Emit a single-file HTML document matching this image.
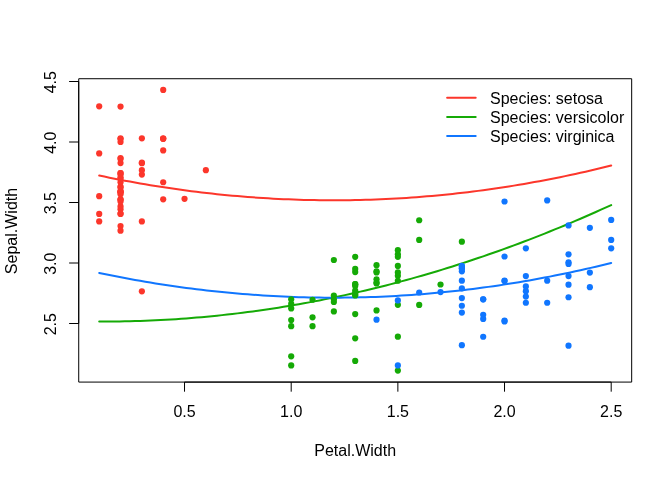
<!DOCTYPE html>
<html><head><meta charset="utf-8"><style>
html,body{margin:0;padding:0;background:#fff;}
svg{display:block;will-change:transform;}
text{font-family:"Liberation Sans",Arial,Helvetica,sans-serif;font-size:16px;fill:#000;}
</style></head><body>
<svg width="672" height="480" viewBox="0 0 672 480">
<rect x="0" y="0" width="672" height="480" fill="#fff"/>
<rect x="78.72" y="78.72" width="552.96" height="303.36" fill="none" stroke="#000" stroke-width="1" stroke-linejoin="round"/>
<line x1="184.53" y1="382.08" x2="611.19" y2="382.08" stroke="#000" stroke-width="1"/>
<line x1="78.72" y1="323.50" x2="78.72" y2="81.50" stroke="#000" stroke-width="1"/>
<line x1="184.53" y1="382.08" x2="184.53" y2="391.68" stroke="#000" stroke-width="1"/>
<text x="184.53" y="416.9" text-anchor="middle">0.5</text>
<line x1="291.20" y1="382.08" x2="291.20" y2="391.68" stroke="#000" stroke-width="1"/>
<text x="291.20" y="416.9" text-anchor="middle">1.0</text>
<line x1="397.86" y1="382.08" x2="397.86" y2="391.68" stroke="#000" stroke-width="1"/>
<text x="397.86" y="416.9" text-anchor="middle">1.5</text>
<line x1="504.53" y1="382.08" x2="504.53" y2="391.68" stroke="#000" stroke-width="1"/>
<text x="504.53" y="416.9" text-anchor="middle">2.0</text>
<line x1="611.19" y1="382.08" x2="611.19" y2="391.68" stroke="#000" stroke-width="1"/>
<text x="611.19" y="416.9" text-anchor="middle">2.5</text>
<line x1="69.12" y1="323.50" x2="78.72" y2="323.50" stroke="#000" stroke-width="1"/>
<text transform="translate(55.9,324.20) rotate(-90)" text-anchor="middle">2.5</text>
<line x1="69.12" y1="263.00" x2="78.72" y2="263.00" stroke="#000" stroke-width="1"/>
<text transform="translate(55.9,263.70) rotate(-90)" text-anchor="middle">3.0</text>
<line x1="69.12" y1="202.50" x2="78.72" y2="202.50" stroke="#000" stroke-width="1"/>
<text transform="translate(55.9,203.20) rotate(-90)" text-anchor="middle">3.5</text>
<line x1="69.12" y1="142.00" x2="78.72" y2="142.00" stroke="#000" stroke-width="1"/>
<text transform="translate(55.9,142.70) rotate(-90)" text-anchor="middle">4.0</text>
<line x1="69.12" y1="81.50" x2="78.72" y2="81.50" stroke="#000" stroke-width="1"/>
<text transform="translate(55.9,82.20) rotate(-90)" text-anchor="middle">4.5</text>
<text x="355.2" y="455.9" text-anchor="middle">Petal.Width</text>
<text transform="translate(17.1,231.0) rotate(-90)" text-anchor="middle">Sepal.Width</text>
<path d="M99.20,175.53 L104.32,176.60 L109.44,177.65 L114.56,178.67 L119.68,179.67 L124.80,180.65 L129.92,181.60 L135.04,182.52 L140.16,183.43 L145.28,184.31 L150.40,185.17 L155.52,186.00 L160.64,186.81 L165.76,187.60 L170.88,188.36 L176.00,189.10 L181.12,189.81 L186.24,190.50 L191.36,191.17 L196.48,191.82 L201.60,192.44 L206.72,193.03 L211.84,193.61 L216.96,194.16 L222.08,194.68 L227.20,195.19 L232.32,195.67 L237.44,196.12 L242.56,196.55 L247.68,196.96 L252.80,197.34 L257.92,197.71 L263.04,198.04 L268.16,198.36 L273.28,198.65 L278.40,198.91 L283.52,199.16 L288.64,199.37 L293.76,199.57 L298.88,199.74 L304.00,199.89 L309.12,200.01 L314.24,200.12 L319.36,200.19 L324.48,200.25 L329.60,200.28 L334.72,200.28 L339.84,200.27 L344.96,200.22 L350.08,200.16 L355.20,200.07 L360.32,199.96 L365.44,199.83 L370.56,199.67 L375.68,199.48 L380.80,199.28 L385.92,199.05 L391.04,198.79 L396.16,198.52 L401.27,198.22 L406.39,197.89 L411.51,197.54 L416.63,197.17 L421.75,196.78 L426.87,196.36 L431.99,195.92 L437.11,195.45 L442.23,194.96 L447.35,194.45 L452.47,193.91 L457.59,193.35 L462.71,192.76 L467.83,192.16 L472.95,191.53 L478.07,190.87 L483.19,190.19 L488.31,189.49 L493.43,188.76 L498.55,188.01 L503.67,187.24 L508.79,186.44 L513.91,185.62 L519.03,184.78 L524.15,183.91 L529.27,183.02 L534.39,182.10 L539.51,181.17 L544.63,180.20 L549.75,179.22 L554.87,178.21 L559.99,177.17 L565.11,176.12 L570.23,175.04 L575.35,173.93 L580.47,172.81 L585.59,171.65 L590.71,170.48 L595.83,169.28 L600.95,168.06 L606.07,166.81 L611.19,165.54" fill="none" stroke="#FC362B" stroke-width="2" stroke-linecap="round" stroke-linejoin="round"/>
<path d="M99.20,321.54 L104.32,321.54 L109.44,321.52 L114.56,321.48 L119.68,321.41 L124.80,321.32 L129.92,321.21 L135.04,321.07 L140.16,320.91 L145.28,320.73 L150.40,320.52 L155.52,320.29 L160.64,320.03 L165.76,319.75 L170.88,319.45 L176.00,319.13 L181.12,318.78 L186.24,318.40 L191.36,318.01 L196.48,317.59 L201.60,317.14 L206.72,316.67 L211.84,316.18 L216.96,315.67 L222.08,315.13 L227.20,314.57 L232.32,313.98 L237.44,313.37 L242.56,312.74 L247.68,312.08 L252.80,311.40 L257.92,310.70 L263.04,309.97 L268.16,309.22 L273.28,308.44 L278.40,307.64 L283.52,306.82 L288.64,305.98 L293.76,305.11 L298.88,304.21 L304.00,303.30 L309.12,302.36 L314.24,301.39 L319.36,300.40 L324.48,299.39 L329.60,298.36 L334.72,297.30 L339.84,296.22 L344.96,295.11 L350.08,293.98 L355.20,292.83 L360.32,291.65 L365.44,290.45 L370.56,289.23 L375.68,287.98 L380.80,286.71 L385.92,285.42 L391.04,284.10 L396.16,282.76 L401.27,281.39 L406.39,280.00 L411.51,278.59 L416.63,277.15 L421.75,275.69 L426.87,274.21 L431.99,272.70 L437.11,271.17 L442.23,269.61 L447.35,268.04 L452.47,266.43 L457.59,264.81 L462.71,263.16 L467.83,261.49 L472.95,259.79 L478.07,258.07 L483.19,256.33 L488.31,254.56 L493.43,252.77 L498.55,250.95 L503.67,249.12 L508.79,247.25 L513.91,245.37 L519.03,243.46 L524.15,241.53 L529.27,239.57 L534.39,237.59 L539.51,235.59 L544.63,233.56 L549.75,231.51 L554.87,229.43 L559.99,227.34 L565.11,225.21 L570.23,223.07 L575.35,220.90 L580.47,218.71 L585.59,216.49 L590.71,214.25 L595.83,211.99 L600.95,209.70 L606.07,207.39 L611.19,205.06" fill="none" stroke="#15AA06" stroke-width="2" stroke-linecap="round" stroke-linejoin="round"/>
<path d="M99.20,272.93 L104.32,274.00 L109.44,275.04 L114.56,276.06 L119.68,277.06 L124.80,278.04 L129.92,278.99 L135.04,279.92 L140.16,280.82 L145.28,281.70 L150.40,282.56 L155.52,283.39 L160.64,284.20 L165.76,284.99 L170.88,285.75 L176.00,286.49 L181.12,287.21 L186.24,287.90 L191.36,288.56 L196.48,289.21 L201.60,289.83 L206.72,290.43 L211.84,291.00 L216.96,291.55 L222.08,292.08 L227.20,292.58 L232.32,293.06 L237.44,293.51 L242.56,293.95 L247.68,294.35 L252.80,294.74 L257.92,295.10 L263.04,295.44 L268.16,295.75 L273.28,296.04 L278.40,296.31 L283.52,296.55 L288.64,296.77 L293.76,296.96 L298.88,297.13 L304.00,297.28 L309.12,297.41 L314.24,297.51 L319.36,297.59 L324.48,297.64 L329.60,297.67 L334.72,297.68 L339.84,297.66 L344.96,297.62 L350.08,297.55 L355.20,297.47 L360.32,297.35 L365.44,297.22 L370.56,297.06 L375.68,296.88 L380.80,296.67 L385.92,296.44 L391.04,296.19 L396.16,295.91 L401.27,295.61 L406.39,295.28 L411.51,294.94 L416.63,294.57 L421.75,294.17 L426.87,293.75 L431.99,293.31 L437.11,292.84 L442.23,292.35 L447.35,291.84 L452.47,291.30 L457.59,290.74 L462.71,290.16 L467.83,289.55 L472.95,288.92 L478.07,288.26 L483.19,287.58 L488.31,286.88 L493.43,286.16 L498.55,285.41 L503.67,284.63 L508.79,283.84 L513.91,283.02 L519.03,282.17 L524.15,281.30 L529.27,280.41 L534.39,279.50 L539.51,278.56 L544.63,277.60 L549.75,276.61 L554.87,275.60 L559.99,274.57 L565.11,273.51 L570.23,272.43 L575.35,271.33 L580.47,270.20 L585.59,269.05 L590.71,267.87 L595.83,266.67 L600.95,265.45 L606.07,264.21 L611.19,262.94" fill="none" stroke="#1076FF" stroke-width="2" stroke-linecap="round" stroke-linejoin="round"/>
<line x1="447.1" y1="97.85" x2="475.7" y2="97.85" stroke="#FC362B" stroke-width="2" stroke-linecap="round"/>
<text x="490.0" y="103.75">Species: setosa</text>
<line x1="447.1" y1="116.95" x2="475.7" y2="116.95" stroke="#15AA06" stroke-width="2" stroke-linecap="round"/>
<text x="490.0" y="122.85">Species: versicolor</text>
<line x1="447.1" y1="136.05" x2="475.7" y2="136.05" stroke="#1076FF" stroke-width="2" stroke-linecap="round"/>
<text x="490.0" y="141.95">Species: virginica</text>
<circle cx="120.53" cy="174.58" r="3.1" fill="#FC362B"/>
<circle cx="120.53" cy="226.06" r="3.1" fill="#FC362B"/>
<circle cx="120.53" cy="192.37" r="3.1" fill="#FC362B"/>
<circle cx="120.53" cy="199.56" r="3.1" fill="#FC362B"/>
<circle cx="120.53" cy="158.03" r="3.1" fill="#FC362B"/>
<circle cx="163.20" cy="138.84" r="3.1" fill="#FC362B"/>
<circle cx="141.87" cy="163.26" r="3.1" fill="#FC362B"/>
<circle cx="120.53" cy="182.23" r="3.1" fill="#FC362B"/>
<circle cx="120.53" cy="213.57" r="3.1" fill="#FC362B"/>
<circle cx="99.20" cy="213.96" r="3.1" fill="#FC362B"/>
<circle cx="120.53" cy="163.04" r="3.1" fill="#FC362B"/>
<circle cx="120.53" cy="172.98" r="3.1" fill="#FC362B"/>
<circle cx="99.20" cy="221.38" r="3.1" fill="#FC362B"/>
<circle cx="99.20" cy="196.21" r="3.1" fill="#FC362B"/>
<circle cx="120.53" cy="142.00" r="3.1" fill="#FC362B"/>
<circle cx="163.20" cy="89.96" r="3.1" fill="#FC362B"/>
<circle cx="163.20" cy="138.84" r="3.1" fill="#FC362B"/>
<circle cx="141.87" cy="174.58" r="3.1" fill="#FC362B"/>
<circle cx="141.87" cy="162.56" r="3.1" fill="#FC362B"/>
<circle cx="141.87" cy="138.28" r="3.1" fill="#FC362B"/>
<circle cx="120.53" cy="199.34" r="3.1" fill="#FC362B"/>
<circle cx="163.20" cy="150.38" r="3.1" fill="#FC362B"/>
<circle cx="120.53" cy="139.06" r="3.1" fill="#FC362B"/>
<circle cx="184.53" cy="198.78" r="3.1" fill="#FC362B"/>
<circle cx="120.53" cy="172.98" r="3.1" fill="#FC362B"/>
<circle cx="120.53" cy="230.63" r="3.1" fill="#FC362B"/>
<circle cx="163.20" cy="182.23" r="3.1" fill="#FC362B"/>
<circle cx="120.53" cy="178.92" r="3.1" fill="#FC362B"/>
<circle cx="120.53" cy="191.02" r="3.1" fill="#FC362B"/>
<circle cx="120.53" cy="192.37" r="3.1" fill="#FC362B"/>
<circle cx="120.53" cy="209.28" r="3.1" fill="#FC362B"/>
<circle cx="163.20" cy="199.34" r="3.1" fill="#FC362B"/>
<circle cx="99.20" cy="106.32" r="3.1" fill="#FC362B"/>
<circle cx="120.53" cy="106.53" r="3.1" fill="#FC362B"/>
<circle cx="120.53" cy="213.96" r="3.1" fill="#FC362B"/>
<circle cx="120.53" cy="206.43" r="3.1" fill="#FC362B"/>
<circle cx="120.53" cy="191.23" r="3.1" fill="#FC362B"/>
<circle cx="99.20" cy="153.46" r="3.1" fill="#FC362B"/>
<circle cx="120.53" cy="201.47" r="3.1" fill="#FC362B"/>
<circle cx="120.53" cy="186.68" r="3.1" fill="#FC362B"/>
<circle cx="141.87" cy="170.13" r="3.1" fill="#FC362B"/>
<circle cx="141.87" cy="291.32" r="3.1" fill="#FC362B"/>
<circle cx="120.53" cy="177.27" r="3.1" fill="#FC362B"/>
<circle cx="205.86" cy="170.13" r="3.1" fill="#FC362B"/>
<circle cx="163.20" cy="138.28" r="3.1" fill="#FC362B"/>
<circle cx="141.87" cy="221.38" r="3.1" fill="#FC362B"/>
<circle cx="120.53" cy="138.28" r="3.1" fill="#FC362B"/>
<circle cx="120.53" cy="187.46" r="3.1" fill="#FC362B"/>
<circle cx="120.53" cy="158.94" r="3.1" fill="#FC362B"/>
<circle cx="120.53" cy="194.33" r="3.1" fill="#FC362B"/>
<circle cx="376.53" cy="265.17" r="3.1" fill="#15AA06"/>
<circle cx="397.86" cy="254.25" r="3.1" fill="#15AA06"/>
<circle cx="397.86" cy="275.76" r="3.1" fill="#15AA06"/>
<circle cx="355.20" cy="338.28" r="3.1" fill="#15AA06"/>
<circle cx="397.86" cy="304.78" r="3.1" fill="#15AA06"/>
<circle cx="355.20" cy="284.18" r="3.1" fill="#15AA06"/>
<circle cx="419.19" cy="239.89" r="3.1" fill="#15AA06"/>
<circle cx="291.20" cy="303.93" r="3.1" fill="#15AA06"/>
<circle cx="355.20" cy="294.69" r="3.1" fill="#15AA06"/>
<circle cx="376.53" cy="279.32" r="3.1" fill="#15AA06"/>
<circle cx="291.20" cy="356.35" r="3.1" fill="#15AA06"/>
<circle cx="397.86" cy="265.89" r="3.1" fill="#15AA06"/>
<circle cx="291.20" cy="365.45" r="3.1" fill="#15AA06"/>
<circle cx="376.53" cy="283.39" r="3.1" fill="#15AA06"/>
<circle cx="355.20" cy="268.94" r="3.1" fill="#15AA06"/>
<circle cx="376.53" cy="272.38" r="3.1" fill="#15AA06"/>
<circle cx="397.86" cy="256.84" r="3.1" fill="#15AA06"/>
<circle cx="291.20" cy="299.30" r="3.1" fill="#15AA06"/>
<circle cx="397.86" cy="370.60" r="3.1" fill="#15AA06"/>
<circle cx="312.53" cy="317.34" r="3.1" fill="#15AA06"/>
<circle cx="461.86" cy="241.69" r="3.1" fill="#15AA06"/>
<circle cx="355.20" cy="295.49" r="3.1" fill="#15AA06"/>
<circle cx="397.86" cy="336.69" r="3.1" fill="#15AA06"/>
<circle cx="333.86" cy="295.49" r="3.1" fill="#15AA06"/>
<circle cx="355.20" cy="290.55" r="3.1" fill="#15AA06"/>
<circle cx="376.53" cy="282.59" r="3.1" fill="#15AA06"/>
<circle cx="376.53" cy="310.43" r="3.1" fill="#15AA06"/>
<circle cx="440.53" cy="284.48" r="3.1" fill="#15AA06"/>
<circle cx="397.86" cy="280.75" r="3.1" fill="#15AA06"/>
<circle cx="291.20" cy="308.38" r="3.1" fill="#15AA06"/>
<circle cx="312.53" cy="326.18" r="3.1" fill="#15AA06"/>
<circle cx="291.20" cy="326.18" r="3.1" fill="#15AA06"/>
<circle cx="333.86" cy="299.30" r="3.1" fill="#15AA06"/>
<circle cx="419.19" cy="304.95" r="3.1" fill="#15AA06"/>
<circle cx="397.86" cy="250.18" r="3.1" fill="#15AA06"/>
<circle cx="419.19" cy="220.25" r="3.1" fill="#15AA06"/>
<circle cx="397.86" cy="272.38" r="3.1" fill="#15AA06"/>
<circle cx="355.20" cy="360.89" r="3.1" fill="#15AA06"/>
<circle cx="355.20" cy="256.84" r="3.1" fill="#15AA06"/>
<circle cx="355.20" cy="314.08" r="3.1" fill="#15AA06"/>
<circle cx="333.86" cy="301.98" r="3.1" fill="#15AA06"/>
<circle cx="376.53" cy="271.29" r="3.1" fill="#15AA06"/>
<circle cx="333.86" cy="311.40" r="3.1" fill="#15AA06"/>
<circle cx="291.20" cy="320.05" r="3.1" fill="#15AA06"/>
<circle cx="355.20" cy="293.14" r="3.1" fill="#15AA06"/>
<circle cx="333.86" cy="259.98" r="3.1" fill="#15AA06"/>
<circle cx="355.20" cy="272.08" r="3.1" fill="#15AA06"/>
<circle cx="355.20" cy="285.90" r="3.1" fill="#15AA06"/>
<circle cx="312.53" cy="299.75" r="3.1" fill="#15AA06"/>
<circle cx="355.20" cy="284.18" r="3.1" fill="#15AA06"/>
<circle cx="611.19" cy="239.95" r="3.1" fill="#1076FF"/>
<circle cx="483.19" cy="299.30" r="3.1" fill="#1076FF"/>
<circle cx="525.86" cy="291.16" r="3.1" fill="#1076FF"/>
<circle cx="461.86" cy="288.35" r="3.1" fill="#1076FF"/>
<circle cx="547.19" cy="280.70" r="3.1" fill="#1076FF"/>
<circle cx="525.86" cy="296.54" r="3.1" fill="#1076FF"/>
<circle cx="440.53" cy="292.03" r="3.1" fill="#1076FF"/>
<circle cx="461.86" cy="305.77" r="3.1" fill="#1076FF"/>
<circle cx="461.86" cy="345.17" r="3.1" fill="#1076FF"/>
<circle cx="611.19" cy="219.88" r="3.1" fill="#1076FF"/>
<circle cx="504.53" cy="256.50" r="3.1" fill="#1076FF"/>
<circle cx="483.19" cy="314.84" r="3.1" fill="#1076FF"/>
<circle cx="525.86" cy="286.47" r="3.1" fill="#1076FF"/>
<circle cx="504.53" cy="320.49" r="3.1" fill="#1076FF"/>
<circle cx="589.86" cy="287.20" r="3.1" fill="#1076FF"/>
<circle cx="568.53" cy="254.34" r="3.1" fill="#1076FF"/>
<circle cx="461.86" cy="280.70" r="3.1" fill="#1076FF"/>
<circle cx="547.19" cy="200.46" r="3.1" fill="#1076FF"/>
<circle cx="568.53" cy="345.66" r="3.1" fill="#1076FF"/>
<circle cx="397.86" cy="365.46" r="3.1" fill="#1076FF"/>
<circle cx="568.53" cy="263.96" r="3.1" fill="#1076FF"/>
<circle cx="504.53" cy="281.05" r="3.1" fill="#1076FF"/>
<circle cx="504.53" cy="321.46" r="3.1" fill="#1076FF"/>
<circle cx="461.86" cy="312.55" r="3.1" fill="#1076FF"/>
<circle cx="525.86" cy="248.37" r="3.1" fill="#1076FF"/>
<circle cx="461.86" cy="268.28" r="3.1" fill="#1076FF"/>
<circle cx="461.86" cy="298.04" r="3.1" fill="#1076FF"/>
<circle cx="461.86" cy="271.31" r="3.1" fill="#1076FF"/>
<circle cx="525.86" cy="302.74" r="3.1" fill="#1076FF"/>
<circle cx="419.19" cy="292.48" r="3.1" fill="#1076FF"/>
<circle cx="483.19" cy="318.95" r="3.1" fill="#1076FF"/>
<circle cx="504.53" cy="201.52" r="3.1" fill="#1076FF"/>
<circle cx="547.19" cy="302.74" r="3.1" fill="#1076FF"/>
<circle cx="397.86" cy="300.45" r="3.1" fill="#1076FF"/>
<circle cx="376.53" cy="319.71" r="3.1" fill="#1076FF"/>
<circle cx="568.53" cy="297.26" r="3.1" fill="#1076FF"/>
<circle cx="589.86" cy="227.85" r="3.1" fill="#1076FF"/>
<circle cx="461.86" cy="266.44" r="3.1" fill="#1076FF"/>
<circle cx="461.86" cy="268.66" r="3.1" fill="#1076FF"/>
<circle cx="525.86" cy="276.06" r="3.1" fill="#1076FF"/>
<circle cx="589.86" cy="272.57" r="3.1" fill="#1076FF"/>
<circle cx="568.53" cy="276.06" r="3.1" fill="#1076FF"/>
<circle cx="483.19" cy="299.30" r="3.1" fill="#1076FF"/>
<circle cx="568.53" cy="262.27" r="3.1" fill="#1076FF"/>
<circle cx="611.19" cy="248.37" r="3.1" fill="#1076FF"/>
<circle cx="568.53" cy="284.67" r="3.1" fill="#1076FF"/>
<circle cx="483.19" cy="336.75" r="3.1" fill="#1076FF"/>
<circle cx="504.53" cy="280.70" r="3.1" fill="#1076FF"/>
<circle cx="568.53" cy="225.44" r="3.1" fill="#1076FF"/>
<circle cx="461.86" cy="265.89" r="3.1" fill="#1076FF"/>
</svg>
</body></html>
